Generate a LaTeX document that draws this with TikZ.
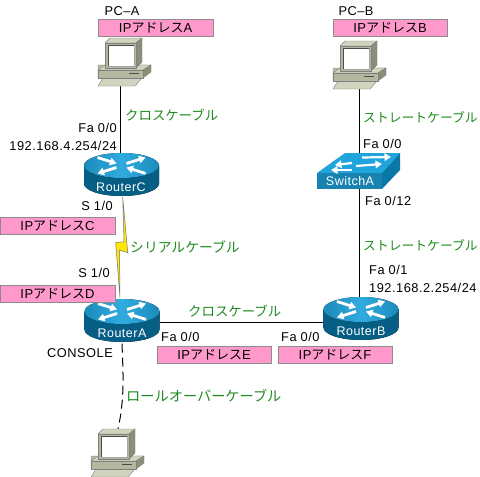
\documentclass[tikz,border=0pt]{standalone}
\usepackage{fontspec}
\setmainfont{Liberation Sans}[LetterSpace=4]
\newfontfamily\cjk{Noto Sans CJK JP}
\usetikzlibrary{backgrounds,arrows.meta}
\definecolor{pinkbox}{HTML}{FF99CC}
\definecolor{cablegreen}{HTML}{1E8A1E}
\definecolor{rtop}{HTML}{1FA4DC}
\definecolor{rside}{HTML}{0A78A6}
\definecolor{rdark}{HTML}{065E84}
\definecolor{pcmain}{HTML}{B5B89E}
\definecolor{pclight}{HTML}{D2D4C0}
\definecolor{pcdark}{HTML}{8C8E78}
\tikzset{
  addr/.style={draw=black!45,fill=pinkbox,line width=0.7pt,minimum height=17pt,inner sep=0pt,font=\fontsize{13}{13}\selectfont},
  txt/.style={inner sep=0pt,font=\fontsize{12.8}{13}\selectfont},
  cable/.style={inner sep=0pt,text=cablegreen,font=\fontsize{#1}{14}\selectfont\cjk},
  cable/.default=13.4,
  devlabel/.style={inner sep=0pt,text=white,font=\fontsize{12.5}{12}\selectfont},
  hold/.style={inner sep=0pt,minimum width=#1,draw=none},
  link/.style={line width=1.4pt,black},
  rarrow/.style={white,line width=2.8pt,-{Triangle[length=6.5pt,width=7.5pt]}},
  pcline/.style={line width=0.4pt,draw=black!50}
}
\newcommand{\routerpic}[2]{%
  \begin{scope}[shift={(#1,#2)}]
    \fill[left color=rdark,middle color=rside,right color=rdark] (-37.5,0) -- (-37.5,18) .. controls (-37.5,25) and (-20.7,30.5) .. (0,30.5) .. controls (20.7,30.5) and (37.5,25) .. (37.5,18) -- (37.5,0) -- cycle;
    \fill[left color=rtop!85!black,right color=rtop!85!black,middle color=rtop!92!white] (0,0) ellipse[x radius=37.5,y radius=12.5];
    \draw[rarrow] (-24,-8) -- (-5,-2);
    \draw[rarrow] (5,-2) -- (24,-8);
    \draw[rarrow] (-5,2) -- (-24,8);
    \draw[rarrow] (24,8) -- (5,2);
  \end{scope}}
\newcommand{\pcpic}[2]{%
  \begin{scope}[shift={(#1,#2)}]
    \filldraw[pcline,fill=pcmain] (-23,27) -- (-16,27) -- (15,27) -- (30,27) -- (22,32) -- (22,40) -- (-23,40) -- cycle;
    \filldraw[pcline,fill=pclight] (-23,32) -- (-16,27) -- (30,27) -- (22,32) -- cycle;
    \filldraw[pcline,fill=pcdark] (22,32) -- (30,27) -- (30,34) -- (22,40) -- cycle;
    \filldraw[pcline,fill=pclight] (-23,48) -- (-18,40) -- (21,40) -- (14,48) -- cycle;
    \filldraw[pcline,fill=pcmain] (-23,32) rectangle (22,40);
    \draw[black!70,line width=0.8pt] (8,35) -- (18,35);
    \filldraw[pcline,fill=pclight] (-16,5) -- (-11,0) -- (21,0) -- (15,5) -- cycle;
    \filldraw[pcline,fill=pcdark] (15,5) -- (21,0) -- (21,24) -- (15,30) -- cycle;
    \filldraw[pcline,fill=pcmain] (-16,5) rectangle (15,30);
    \fill[white] (-13,7) rectangle (13,28);
    \draw[black!70,line width=0.7pt] (-13,28) -- (-13,7) -- (13,7);
    \draw[black!35,line width=0.5pt] (13,7) -- (13,28) -- (-13,28);
  \end{scope}}
\begin{document}
\begin{tikzpicture}[x=1pt,y=-1pt]
\useasboundingbox (0,0) rectangle (480,477);
% devices
\pcpic{121}{38}
\pcpic{356}{41}
\pcpic{114}{429}
\routerpic{121.5}{165.5}
\routerpic{122}{311.5}
\routerpic{361}{309.5}
% switch
\fill[rtop] (317,173) -- (345,153) -- (400,153) -- (382,173) -- cycle;
\fill[rside] (382,173) -- (400,153) -- (400,170) -- (382,189) -- cycle;
\fill[rtop!80!black] (317,173) rectangle (382,189);
\draw[rarrow,line width=2.2pt] (352,163) -- (335,165);
\draw[rarrow,line width=2.2pt] (362,157.5) -- (391,157);
\draw[rarrow,line width=2.2pt] (352,170) -- (331,170);
\draw[rarrow,line width=2.2pt] (356,166) -- (382,164);
% anchors of devices
\node[hold=53pt,minimum height=48pt] (pca) at (120.5,62) {};
\node[hold=53pt,minimum height=47pt] (pcb) at (356,65) {};
\node[hold=45pt,minimum height=48pt] (pcc) at (118,453) {};
\node[hold=75pt,minimum height=43pt] (rc) at (121.5,174.5) {};
\node[hold=76pt,minimum height=42pt] (ra) at (122,322.5) {};
\node[hold=76pt,minimum height=51pt] (rb) at (361,322.5) {};
\node[hold=81pt,minimum height=36pt] (sw) at (359.5,171) {};
% device labels
\node[devlabel] (rct) at (121,187) {RouterC};
\node[devlabel] (rat) at (122,333) {RouterA};
\node[devlabel] (rbt) at (361,331) {RouterB};
\node[devlabel] (swt) at (350,181) {SwitchA};
% connectors
\begin{scope}[on background layer]
\draw[link] (pca.south) -- (pca.south |- rc.north);
\draw[link] (pcb.south -| sw.north) -- (sw.north);
\draw[link] (sw.south) -- (sw.south |- rb.north);
\draw[link] (ra.east) -- (rb.west);
\end{scope}
\coordinate (bolta) at (122.7,197);
\coordinate (boltb) at (120,298);
\filldraw[fill=yellow!90!orange,draw=black!55,line width=0.5pt] (bolta) -- (127.7,252.7) -- (119.5,250) -- (boltb) -- (115.7,242.7) -- (124,241.7) -- cycle;
\draw[line width=1pt,dash pattern=on 9pt off 5pt] (ra.south) .. controls (123,372) and (125,398) .. (pcc.north);
% addresses
\node[addr,minimum width=115pt] (ipa) at (155.5,27.5) {IP{\cjk アドレス}A};
\node[addr,minimum width=114pt] (ipb) at (390,27.5) {IP{\cjk アドレス}B};
\node[addr,minimum width=115pt] (ipc) at (57.5,225.5) {IP{\cjk アドレス}C};
\node[addr,minimum width=115pt] (ipd) at (57.5,293.5) {IP{\cjk アドレス}D};
\node[addr,minimum width=114pt] (ipe) at (214,355) {IP{\cjk アドレス}E};
\node[addr,minimum width=114pt] (ipf) at (335,354.5) {IP{\cjk アドレス}F};
% texts
\node[txt] (pcat) at (122,11) {PC–A};
\node[txt] (pcbt) at (356,11) {PC–B};
\node[txt,anchor=east] (t1) at (117,128) {Fa 0/0};
\node[txt,anchor=east] (t2) at (117,146) {192.168.4.254/24};
\node[txt,anchor=east] (t3) at (113,206) {S 1/0};
\node[txt,anchor=east] (t4) at (110,273) {S 1/0};
\node[txt,anchor=west] (t5) at (161,337) {Fa 0/0};
\node[txt,anchor=east] (t6) at (113,353) {CONSOLE};
\node[txt,anchor=west] (t7) at (281,337) {Fa 0/0};
\node[txt,anchor=west] (t8) at (369,270) {Fa 0/1};
\node[txt,anchor=west] (t9) at (369,288) {192.168.2.254/24};
\node[txt,anchor=west] (t10) at (363,144) {Fa 0/0};
\node[txt,anchor=west] (t11) at (365,201) {Fa 0/12};
\node[cable,anchor=west] (c1) at (125,115) {クロスケーブル};
\node[cable=13.8,anchor=west] (c2) at (130,247) {シリアルケーブル};
\node[cable,anchor=west] (c3) at (188,311) {クロスケーブル};
\node[cable=12.8,anchor=west] (c4) at (363,117) {ストレートケーブル};
\node[cable=12.8,anchor=west] (c5) at (363,245) {ストレートケーブル};
\node[cable=14.2,anchor=west] (c6) at (126,396) {ロールオーバーケーブル};
\end{tikzpicture}
\end{document}
